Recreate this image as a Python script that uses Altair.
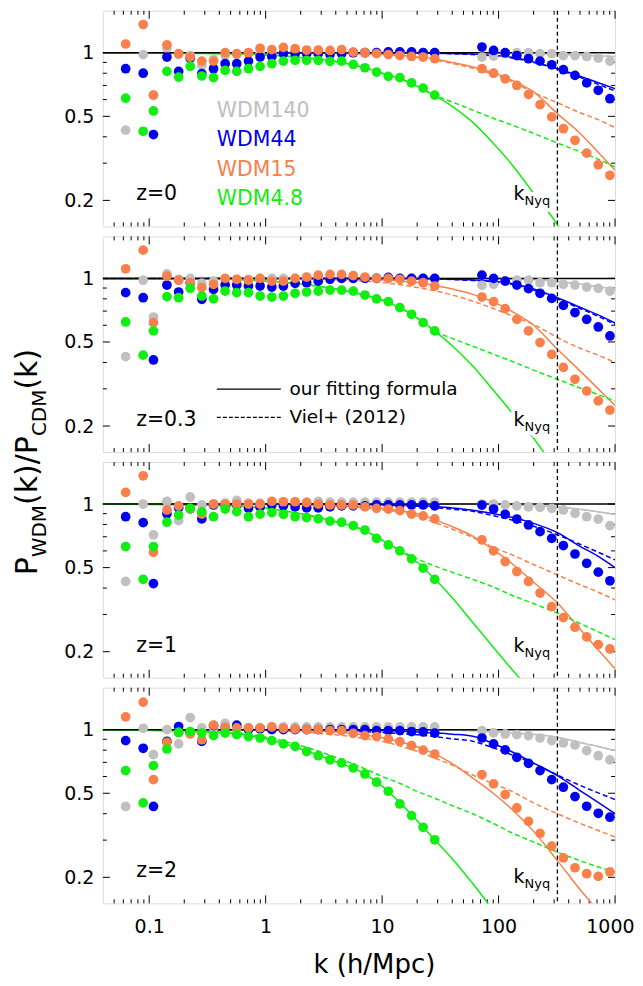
import altair as alt
import pandas as pd

W, H = 513, 216
X_DOMAIN = [0.04, 1000]
Y_DOMAIN = [0.1506, 1.58]
FONT = "DejaVu Sans"

SERIES = ["WDM140", "WDM44", "WDM15", "WDM4.8"]
COLORS = ["#c0c0c0", "#0000ee", "#f9804a", "#11ee11"]

# k values of the simulation bins
K_LOW = [0.0628, 0.0888, 0.1088, 0.142, 0.179, 0.225, 0.283, 0.357, 0.449, 0.565, 0.712, 0.896,
         1.13, 1.42, 1.79, 2.25, 2.83, 3.57, 4.49, 5.65, 7.12, 8.96, 11.3, 14.2, 17.9, 22.5, 28.3]
K_HIGH = [72, 90.6, 114, 143.5, 180.7, 227, 286, 360, 453, 571, 718, 904]

# ---- z=0 points
P0_GRAY = [0.43, 0.98, 0.63, 1.05, 0.98, 0.97, 0.87, 0.93, 0.97, 0.98, 0.99, 1.0, 1.0, 1.0, 1.0, 1.0,
           1.0, 1.0, 1.0, 1.0, 1.0, 1.0, 1.0, 1.0, 1.0, 1.0, 1.0,
           0.954, 0.964, 0.99, 1.0, 1.0, 0.99, 0.99, 0.97, 0.97, 0.96, 0.944, 0.913]
P0_BLUE = [0.84, 0.80, 0.41, 0.954, 0.816, 0.94, 0.796, 0.84, 0.887, 0.887, 0.913, 0.954, 0.96, 0.99,
           0.99, 0.99, 0.99, 0.98, 0.99, 1.0, 1.0, 1.0, 1.01, 1.01, 1.01, 1.0, 1.0,
           1.064, 1.025, 1.0, 0.97, 0.937, 0.913, 0.877, 0.831, 0.781, 0.72, 0.664, 0.606]
P0_ORANGE = [1.10, 1.36, 0.63, 1.09, 0.99, 0.954, 0.913, 0.913, 1.0, 0.99, 1.0, 1.05, 1.035, 1.06,
             1.045, 1.03, 1.03, 1.025, 1.035, 1.007, 1.0, 0.99, 0.98, 0.97, 0.96, 0.954, 0.937,
             0.84, 0.80, 0.753, 0.70, 0.635, 0.568, 0.497, 0.437, 0.385, 0.335, 0.295, 0.263]
P0_GREEN = [0.61, 0.425, 0.53, 0.816, 0.767, 0.862, 0.776, 0.762, 0.825, 0.816, 0.84, 0.862, 0.887,
            0.913, 0.92, 0.92, 0.92, 0.91, 0.913, 0.88, 0.849, 0.81, 0.773, 0.762, 0.72, 0.68, 0.63]
# ---- z=0.3 points
P1_GRAY = [0.426, 0.98, 0.656, 1.05, 0.99, 1.0, 0.95, 0.97, 0.99, 0.99, 0.99, 1.0, 1.0, 1.0, 1.0, 1.0,
           1.0, 1.0, 1.0, 1.0, 1.0, 1.0, 1.0, 1.0, 1.0, 1.0, 1.0,
           0.927, 0.937, 0.97, 0.98, 0.98, 0.954, 0.954, 0.937, 0.93, 0.91, 0.897, 0.871]
P1_BLUE = [0.856, 0.81, 0.411, 0.93, 0.862, 0.95, 0.796, 0.887, 0.93, 0.93, 0.92, 0.92, 0.91, 0.92,
           0.947, 0.954, 0.97, 0.99, 1.0, 1.0, 1.0, 1.0, 1.01, 1.0, 1.0, 1.0, 1.0,
           1.036, 1.0, 0.97, 0.93, 0.894, 0.85, 0.804, 0.745, 0.689, 0.64, 0.589, 0.534]
P1_ORANGE = [1.11, 1.36, 0.617, 1.025, 0.98, 0.953, 0.904, 0.937, 1.0, 0.99, 0.98, 1.0, 0.97, 0.97,
             1.0, 1.015, 1.036, 1.044, 1.044, 1.03, 1.015, 1.0, 1.0, 0.99, 0.97, 0.954, 0.92,
             0.816, 0.776, 0.719, 0.64, 0.564, 0.497, 0.437, 0.379, 0.333, 0.293, 0.263, 0.238]
P1_GREEN = [0.622, 0.433, 0.564, 0.82, 0.81, 0.897, 0.825, 0.80, 0.871, 0.856, 0.856, 0.825, 0.816,
            0.825, 0.85, 0.862, 0.87, 0.88, 0.88, 0.87, 0.834, 0.80, 0.776, 0.727, 0.676, 0.617, 0.564]
# ---- z=1 points
P2_GRAY = [0.43, 1.0, 0.714, 1.03, 0.834, 1.08, 0.99, 1.0, 1.01, 1.04, 1.01, 1.01, 1.01, 1.02, 1.02,
           1.02, 1.03, 1.02, 1.02, 1.02, 1.02, 1.02, 1.02, 1.02, 1.02, 1.02, 1.02,
           1.0, 1.0, 0.99, 0.98, 0.97, 0.965, 0.954, 0.937, 0.904, 0.871, 0.849, 0.79]
P2_BLUE = [0.871, 0.816, 0.42, 0.90, 0.96, 0.95, 0.85, 0.99, 0.99, 0.99, 0.954, 0.97, 0.99, 0.98,
           0.97, 0.96, 0.96, 0.97, 0.98, 0.98, 0.98, 0.99, 0.99, 0.99, 0.99, 0.99, 0.98,
           0.989, 0.947, 0.894, 0.849, 0.796, 0.74, 0.688, 0.635, 0.58, 0.524, 0.476, 0.433]
P2_ORANGE = [1.135, 1.36, 0.59, 0.937, 0.98, 0.95, 0.896, 1.0, 1.0, 1.0, 1.0, 1.0, 1.03, 1.025,
             1.025, 1.015, 1.0, 0.99, 0.99, 0.99, 0.97, 0.954, 0.947, 0.93, 0.896, 0.878, 0.85,
             0.676, 0.60, 0.534, 0.479, 0.43, 0.379, 0.327, 0.29, 0.261, 0.235, 0.216, 0.206]
P2_GREEN = [0.629, 0.44, 0.629, 0.82, 0.887, 0.954, 0.92, 0.871, 0.947, 0.92, 0.871, 0.896, 0.91,
            0.894, 0.871, 0.862, 0.85, 0.83, 0.82, 0.79, 0.753, 0.688, 0.64, 0.60, 0.55, 0.497, 0.44]
# ---- z=2 points
P3_GRAY = [0.433, 1.015, 0.762, 1.0, 0.856, 1.14, 1.02, 1.02, 1.07, 1.02, 1.02, 1.02, 1.03, 1.03,
           1.03, 1.03, 1.03, 1.03, 1.03, 1.03, 1.03, 1.03, 1.03, 1.03, 1.03, 1.03, 1.03,
           0.989, 0.965, 0.954, 0.947, 0.937, 0.913, 0.887, 0.865, 0.846, 0.796, 0.753, 0.719]
P3_BLUE = [0.887, 0.816, 0.433, 0.88, 1.035, 0.97, 0.88, 1.045, 1.02, 1.05, 1.0, 1.01, 1.0, 1.0,
           1.0, 1.0, 1.0, 1.0, 1.0, 1.0, 1.0, 0.99, 0.99, 0.99, 0.98, 0.975, 0.964,
           0.913, 0.856, 0.802, 0.74, 0.693, 0.64, 0.58, 0.534, 0.482, 0.434, 0.402, 0.385]
P3_ORANGE = [1.15, 1.35, 0.58, 0.871, 0.97, 0.954, 0.896, 1.05, 1.025, 1.02, 1.02, 1.02, 1.03, 1.015,
             1.007, 1.0, 1.0, 0.99, 0.99, 0.96, 0.937, 0.927, 0.904, 0.878, 0.84, 0.80, 0.767,
             0.613, 0.554, 0.493, 0.426, 0.368, 0.323, 0.281, 0.247, 0.222, 0.208, 0.202, 0.212]
P3_GREEN = [0.64, 0.45, 0.676, 0.81, 0.97, 0.98, 0.964, 0.937, 0.964, 0.947, 0.927, 0.913, 0.887,
            0.856, 0.834, 0.787, 0.753, 0.72, 0.696, 0.659, 0.617, 0.564, 0.511, 0.445, 0.392, 0.345, 0.301]

# ---- curves (solid = our fitting formula, dashed = Viel+2012), read at these k
K_LINE = [0.04, 0.5, 1, 2, 4, 7, 10, 15, 20, 28, 40, 60, 90, 130, 200, 320, 500, 700, 1000]

L0_GRAY_S = [1, 1, 1, 1, 1, 1, 1, 1, 1, 1, 1, 1, 0.999, 0.997, 0.993, 0.985, 0.975, 0.968, 0.96]
L0_GRAY_D = [1, 1, 1, 1, 1, 1, 1, 1, 1, 1, 1, 1, 0.999, 0.997, 0.993, 0.985, 0.975, 0.968, 0.96]
L0_BLUE_S = [1, 1, 1, 1, 1, 1, 1, 0.999, 0.998, 0.996, 0.993, 0.985, 0.972, 0.953, 0.905, 0.84, 0.775, 0.725, 0.676]
L0_BLUE_D = [1, 1, 1, 1, 1, 1, 1, 0.999, 0.997, 0.994, 0.99, 0.98, 0.967, 0.945, 0.9, 0.835, 0.765, 0.712, 0.66]
L0_ORANGE_S = [1, 1, 1, 0.999, 0.997, 0.992, 0.985, 0.97, 0.955, 0.935, 0.9, 0.857, 0.805, 0.741, 0.652, 0.515, 0.416, 0.343, 0.278]
L0_ORANGE_D = [1, 1, 1, 0.998, 0.994, 0.988, 0.98, 0.965, 0.95, 0.925, 0.89, 0.845, 0.79, 0.73, 0.648, 0.58, 0.52, 0.485, 0.442]
L0_GREEN_S = [1, 0.99, 0.975, 0.95, 0.91, 0.85, 0.80, 0.745, 0.695, 0.63, 0.557, 0.468, 0.373, 0.296, 0.216, 0.153, 0.095, 0.065, 0.04]
L0_GREEN_D = [1, 0.99, 0.975, 0.95, 0.91, 0.85, 0.80, 0.745, 0.695, 0.63, 0.585, 0.535, 0.49, 0.455, 0.415, 0.374, 0.34, 0.315, 0.288]

L1_GRAY_S = [1, 1, 1, 1, 1, 1, 1, 1, 1, 1, 1, 0.999, 0.997, 0.994, 0.988, 0.968, 0.94, 0.915, 0.89]
L1_GRAY_D = [1, 1, 1, 1, 1, 1, 1, 1, 1, 1, 1, 0.999, 0.997, 0.994, 0.988, 0.968, 0.94, 0.915, 0.89]
L1_BLUE_S = [1, 1, 1, 1, 1, 1, 1, 0.999, 0.998, 0.995, 0.99, 0.982, 0.968, 0.945, 0.89, 0.81, 0.73, 0.675, 0.615]
L1_BLUE_D = [1, 1, 1, 1, 1, 1, 1, 0.999, 0.997, 0.993, 0.987, 0.977, 0.962, 0.937, 0.88, 0.80, 0.72, 0.665, 0.605]
L1_ORANGE_S = [1, 1, 1, 0.999, 0.996, 0.99, 0.983, 0.97, 0.955, 0.925, 0.89, 0.84, 0.774, 0.698, 0.6, 0.462, 0.365, 0.304, 0.25]
L1_ORANGE_D = [1, 0.999, 0.998, 0.995, 0.985, 0.97, 0.955, 0.93, 0.905, 0.875, 0.835, 0.78, 0.72, 0.665, 0.605, 0.525, 0.467, 0.435, 0.40]
L1_GREEN_S = [1, 0.99, 0.97, 0.94, 0.89, 0.835, 0.79, 0.715, 0.65, 0.566, 0.48, 0.385, 0.296, 0.232, 0.175, 0.12, 0.08, 0.06, 0.04]
L1_GREEN_D = [1, 0.99, 0.97, 0.94, 0.89, 0.835, 0.79, 0.715, 0.65, 0.566, 0.52, 0.477, 0.438, 0.405, 0.368, 0.333, 0.303, 0.283, 0.263]

L2_GRAY_S = [1, 1, 1, 1, 1, 1, 1, 1, 1, 1, 1, 1, 0.998, 0.995, 0.985, 0.968, 0.945, 0.92, 0.894]
L2_GRAY_D = [1, 1, 1, 1, 1, 1, 1, 1, 1, 1, 1, 1, 0.998, 0.995, 0.985, 0.968, 0.945, 0.92, 0.894]
L2_BLUE_S = [1, 1, 1, 1, 0.998, 0.997, 0.995, 0.99, 0.985, 0.973, 0.958, 0.935, 0.9, 0.865, 0.81, 0.732, 0.63, 0.57, 0.50]
L2_BLUE_D = [1, 1, 1, 0.999, 0.997, 0.994, 0.99, 0.982, 0.975, 0.962, 0.945, 0.924, 0.88, 0.84, 0.785, 0.715, 0.645, 0.595, 0.544]
L2_ORANGE_S = [1, 1, 1, 0.995, 0.985, 0.97, 0.955, 0.925, 0.9, 0.846, 0.781, 0.705, 0.608, 0.523, 0.426, 0.34, 0.256, 0.207, 0.166]
L2_ORANGE_D = [1, 0.998, 0.995, 0.99, 0.975, 0.958, 0.94, 0.91, 0.88, 0.82, 0.76, 0.695, 0.625, 0.575, 0.517, 0.462, 0.415, 0.385, 0.352]
L2_GREEN_S = [1, 0.98, 0.955, 0.9, 0.825, 0.75, 0.675, 0.59, 0.53, 0.445, 0.36, 0.275, 0.21, 0.165, 0.125, 0.085, 0.06, 0.045, 0.03]
L2_GREEN_D = [1, 0.98, 0.955, 0.9, 0.825, 0.75, 0.675, 0.595, 0.55, 0.51, 0.475, 0.44, 0.405, 0.37, 0.338, 0.304, 0.272, 0.25, 0.228]

L3_GRAY_S = [1, 1, 1, 1, 1, 1, 1, 1, 1, 0.998, 0.995, 0.988, 0.978, 0.966, 0.95, 0.92, 0.87, 0.835, 0.796]
L3_GRAY_D = [1, 1, 1, 1, 1, 1, 1, 1, 1, 0.998, 0.995, 0.988, 0.978, 0.966, 0.95, 0.92, 0.87, 0.835, 0.796]
L3_BLUE_S = [1, 1, 1, 0.999, 0.997, 0.994, 0.99, 0.982, 0.975, 0.965, 0.952, 0.93, 0.86, 0.786, 0.695, 0.606, 0.515, 0.456, 0.40]
L3_BLUE_D = [1, 0.999, 0.998, 0.995, 0.988, 0.978, 0.97, 0.955, 0.945, 0.928, 0.905, 0.882, 0.82, 0.76, 0.69, 0.61, 0.545, 0.505, 0.467]
L3_ORANGE_S = [1, 1, 0.997, 0.99, 0.975, 0.945, 0.915, 0.87, 0.83, 0.77, 0.69, 0.59, 0.50, 0.42, 0.33, 0.24, 0.175, 0.14, 0.1]
L3_ORANGE_D = [1, 0.995, 0.99, 0.975, 0.945, 0.91, 0.88, 0.83, 0.79, 0.735, 0.68, 0.61, 0.555, 0.51, 0.45, 0.40, 0.36, 0.335, 0.31]
L3_GREEN_S = [1, 0.965, 0.905, 0.81, 0.705, 0.62, 0.54, 0.438, 0.37, 0.303, 0.245, 0.187, 0.14, 0.11, 0.08, 0.05, 0.035, 0.025, 0.02]
L3_GREEN_D = [1, 0.97, 0.92, 0.84, 0.74, 0.655, 0.60, 0.55, 0.51, 0.475, 0.437, 0.40, 0.36, 0.325, 0.294, 0.263, 0.24, 0.225, 0.212]

Z_LABELS = ["z=0", "z=0.3", "z=1", "z=2"]
Z_LABEL_K = 0.0773
Z_LABEL_V = 0.2
K_NYQ = 320
KNYQ_LABEL_K = 134.6
KNYQ_LABEL_V = [0.2, 0.2, 0.2, 0.188]
LEGEND_K = 0.381
LEGEND_V = [0.495, 0.36, 0.262, 0.19]
FIT_LINE_K = [0.381, 1.35]
FIT_LINE_V = [0.299, 0.22]
FIT_TEXT_K = 1.60
FIT_TEXTS = ["our fitting formula", "Viel+ (2012)"]

X_MAJOR = [0.1, 1, 10, 100, 1000]
X_MINOR = [0.05, 0.06, 0.07, 0.08, 0.09, 0.2, 0.3, 0.4, 0.5, 0.6, 0.7, 0.8, 0.9,
           2, 3, 4, 5, 6, 7, 8, 9, 20, 30, 40, 50, 60, 70, 80, 90,
           200, 300, 400, 500, 600, 700, 800, 900]
Y_MAJOR = [0.2, 0.5, 1]
Y_MINOR = [0.3, 0.4, 0.6, 0.7, 0.8, 0.9]

PANELS = [
    ([P0_GRAY, P0_BLUE, P0_ORANGE, P0_GREEN],
     [(L0_GRAY_S, L0_GRAY_D), (L0_BLUE_S, L0_BLUE_D), (L0_ORANGE_S, L0_ORANGE_D), (L0_GREEN_S, L0_GREEN_D)]),
    ([P1_GRAY, P1_BLUE, P1_ORANGE, P1_GREEN],
     [(L1_GRAY_S, L1_GRAY_D), (L1_BLUE_S, L1_BLUE_D), (L1_ORANGE_S, L1_ORANGE_D), (L1_GREEN_S, L1_GREEN_D)]),
    ([P2_GRAY, P2_BLUE, P2_ORANGE, P2_GREEN],
     [(L2_GRAY_S, L2_GRAY_D), (L2_BLUE_S, L2_BLUE_D), (L2_ORANGE_S, L2_ORANGE_D), (L2_GREEN_S, L2_GREEN_D)]),
    ([P3_GRAY, P3_BLUE, P3_ORANGE, P3_GREEN],
     [(L3_GRAY_S, L3_GRAY_D), (L3_BLUE_S, L3_BLUE_D), (L3_ORANGE_S, L3_ORANGE_D), (L3_GREEN_S, L3_GREEN_D)]),
]

XS = alt.Scale(type="log", domain=X_DOMAIN, nice=False)
YS = alt.Scale(type="log", domain=Y_DOMAIN, nice=False)
X_AXIS = alt.Axis(values=X_MAJOR, format="~g", labelFontSize=19, labelFont=FONT, labelColor="black",
                  ticks=False, domain=False, grid=False, labelPadding=14, labelFlush=True,
                  labelFlushOffset=19, labelOverlap=False, title=None)
Y_AXIS = alt.Axis(values=Y_MAJOR, format="~g", labelFontSize=19, labelFont=FONT, labelColor="black",
                  ticks=False, domain=False, grid=False, labelPadding=9, labelFlush=False,
                  labelOverlap=False, title=None)


def make_panel(idx, pts, lines, bottom):
    xax = X_AXIS if bottom else None

    def X():
        return alt.X("k:Q", scale=XS, axis=xax)

    def Y():
        return alt.Y("v:Q", scale=YS, axis=Y_AXIS)

    layers = []
    # inward ticks
    for vals, ln in ((X_MAJOR, 8), (X_MINOR, 4)):
        df = pd.DataFrame({"k": vals})
        layers.append(alt.Chart(df).mark_rule(color="black", strokeWidth=1).encode(
            x=X(), y=alt.value(H), y2=alt.value(H - ln)))
        layers.append(alt.Chart(df).mark_rule(color="black", strokeWidth=1).encode(
            x=X(), y=alt.value(0), y2=alt.value(ln)))
    for vals, ln in ((Y_MAJOR, 7), (Y_MINOR, 4)):
        df = pd.DataFrame({"v": vals})
        layers.append(alt.Chart(df).mark_rule(color="black", strokeWidth=1).encode(
            y=Y(), x=alt.value(0), x2=alt.value(ln)))
        layers.append(alt.Chart(df).mark_rule(color="black", strokeWidth=1).encode(
            y=Y(), x=alt.value(W), x2=alt.value(W - ln)))

    # curves
    for (solid, dashed), col in zip(lines, COLORS):
        dfs = pd.DataFrame({"k": K_LINE, "v": solid})
        dfd = pd.DataFrame({"k": K_LINE, "v": dashed})
        layers.append(alt.Chart(dfs).mark_line(color=col, strokeWidth=1.5, clip=True,
                                               interpolate="monotone").encode(x=X(), y=Y()))
        layers.append(alt.Chart(dfd).mark_line(color=col, strokeWidth=1.5, clip=True,
                                               strokeDash=[5, 3], interpolate="monotone").encode(x=X(), y=Y()))

    # unity line
    layers.append(alt.Chart(pd.DataFrame({"v": [1.0]})).mark_rule(color="black", strokeWidth=1.5).encode(
        y=Y(), x=alt.value(0), x2=alt.value(W)))
    # Nyquist line
    layers.append(alt.Chart(pd.DataFrame({"k": [K_NYQ]})).mark_rule(
        color="black", strokeWidth=1.3, strokeDash=[4, 3]).encode(x=X(), y=alt.value(0), y2=alt.value(H)))
    # k_Nyq label with white halo
    lab = pd.DataFrame({"k": [KNYQ_LABEL_K], "v": [KNYQ_LABEL_V[idx]], "a": ["k"], "b": ["Nyq"]})
    for halo in (True, False):
        extra = dict(stroke="white", strokeWidth=8, strokeJoin="round") if halo else {}
        layers.append(alt.Chart(lab).mark_text(font=FONT, fontSize=19, align="left", baseline="alphabetic",
                                               color="black", **extra).encode(x=X(), y=Y(), text="a:N"))
        layers.append(alt.Chart(lab).mark_text(font=FONT, fontSize=13, align="left", baseline="alphabetic",
                                               color="black", dx=11, dy=5, **extra).encode(x=X(), y=Y(), text="b:N"))

    # points
    for vals, col in zip(pts, COLORS):
        ks = K_LOW + K_HIGH if len(vals) > len(K_LOW) else K_LOW
        df = pd.DataFrame({"k": ks, "v": vals})
        layers.append(alt.Chart(df).mark_circle(size=95, opacity=1, color=col).encode(x=X(), y=Y()))

    # redshift label
    zl = pd.DataFrame({"k": [Z_LABEL_K], "v": [Z_LABEL_V], "t": [Z_LABELS[idx]]})
    layers.append(alt.Chart(zl).mark_text(font=FONT, fontSize=20.5, align="left", baseline="alphabetic",
                                          color="black").encode(x=X(), y=Y(), text="t:N"))

    if idx == 0:
        for name, col, v in zip(SERIES, COLORS, LEGEND_V):
            d = pd.DataFrame({"k": [LEGEND_K], "v": [v], "t": [name]})
            layers.append(alt.Chart(d).mark_text(font=FONT, fontSize=20.5, align="left",
                                                 baseline="alphabetic", color=col).encode(
                x=X(), y=Y(), text="t:N"))
    if idx == 1:
        for j, (v, txt) in enumerate(zip(FIT_LINE_V, FIT_TEXTS)):
            d = pd.DataFrame({"k": [FIT_LINE_K[0]], "k2": [FIT_LINE_K[1]], "v": [v]})
            kw = dict(strokeDash=[4, 2]) if j == 1 else {}
            layers.append(alt.Chart(d).mark_rule(color="black", strokeWidth=1.3, **kw).encode(
                x=X(), x2="k2:Q", y=Y()))
            t = pd.DataFrame({"k": [FIT_TEXT_K], "v": [v], "t": [txt]})
            layers.append(alt.Chart(t).mark_text(font=FONT, fontSize=18.5, align="left",
                                                 baseline="middle", color="black").encode(
                x=X(), y=Y(), text="t:N"))
    if idx == 2:
        # y-axis title P_WDM(k)/P_CDM(k), rotated
        pieces = [("P", 30, -66, 113.5), ("WDM", 20, -57, 95.4), ("(k)/P", 30, -66, 43.0),
                  ("CDM", 20, -57, -26.0), ("(k)", 30, -66, -72.6)]
        for txt, fs, xx, yy in pieces:
            d = pd.DataFrame({"t": [txt]})
            layers.append(alt.Chart(d).mark_text(font=FONT, fontSize=fs, align="left", baseline="alphabetic",
                                                 angle=270, color="black").encode(
                text="t:N", x=alt.value(xx), y=alt.value(yy)))
    if bottom:
        d = pd.DataFrame({"t": ["k (h/Mpc)"]})
        layers.append(alt.Chart(d).mark_text(font=FONT, fontSize=26, align="center", baseline="alphabetic",
                                             color="black").encode(
            text="t:N", x=alt.value(272), y=alt.value(H + 70)))

    return alt.layer(*layers).properties(width=W, height=H)


panels = [make_panel(i, p, l, i == 3) for i, (p, l) in enumerate(PANELS)]

chart = alt.vconcat(*panels, spacing=10, bounds="flush").properties(
    padding={"left": 4, "top": 0, "right": 0, "bottom": 0}
).configure_view(stroke="#1a1a1a", strokeWidth=1.5).configure(font=FONT, padding=0)

chart.save("out.html", embed_options={"renderer": "svg", "actions": False})
